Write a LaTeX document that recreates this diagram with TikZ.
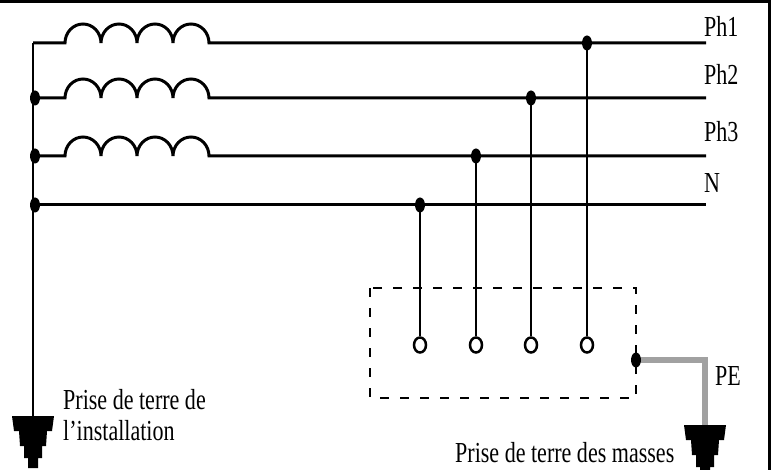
\documentclass[tikz,border=0pt]{standalone}
\usepackage{fontspec}
\setmainfont{Liberation Serif}
\usetikzlibrary{shapes.geometric}
\begin{document}
\begin{tikzpicture}[x=1pt,y=-1pt,
  hwire/.style={line width=3pt},
  vwire/.style={line width=2.4pt},
  dot/.style={ellipse,fill=black,inner sep=0pt,minimum width=10pt,minimum height=15pt},
  term/.style={ellipse,draw=black,line width=2.5pt,fill=white,inner sep=0pt,minimum width=12pt,minimum height=15pt},
  lbl/.style={anchor=base west,inner sep=0pt,font=\fontsize{29}{32}\selectfont},
  pewire/.style={line width=6.5pt,draw=black!37},
  boxline/.style={line width=2.4pt,dash pattern=on 9pt off 11pt},
  ground/.pic={\fill[black] (-21,0) -- (21,0) -- (19,15) -- (14,15) -- (13,30) -- (9,30) -- (9,42) -- (5,42) -- (5,52) -- (-5,52) -- (-5,42) -- (-9,42) -- (-9,30) -- (-13,30) -- (-14,15) -- (-19,15) -- cycle;},
]
\useasboundingbox (0,0) rectangle (771,470);
% frame
\draw[line width=3pt] (0,1.5) -- (769.5,1.5) -- (769.5,470);

% bus coordinates
\coordinate (b1) at (33,43);
\coordinate (b2) at (33,98);
\coordinate (b3) at (33,156);
\coordinate (bN) at (33,205);
\coordinate (g1) at (33,416);
\coordinate (c1) at (65,43);
\coordinate (c2) at (65,98);
\coordinate (c3) at (65,156);
\coordinate (e1) at (706,43);
\coordinate (e2) at (706,98);
\coordinate (e3) at (706,156);
\coordinate (eN) at (706,205);

% left bus
\draw[vwire] (b1) -- (g1);
\pic at (g1) {ground};

% phase lines with coils
\draw[hwire] (b1) -- (c1)
  arc[start angle=180,end angle=0,x radius=18pt,y radius=19pt]
  arc[start angle=180,end angle=0,x radius=18pt,y radius=19pt]
  arc[start angle=180,end angle=0,x radius=18pt,y radius=19pt]
  arc[start angle=180,end angle=0,x radius=18pt,y radius=19pt] -- (e1);
\draw[hwire] (b2) -- (c2)
  arc[start angle=180,end angle=0,x radius=18pt,y radius=19pt]
  arc[start angle=180,end angle=0,x radius=18pt,y radius=19pt]
  arc[start angle=180,end angle=0,x radius=18pt,y radius=19pt]
  arc[start angle=180,end angle=0,x radius=18pt,y radius=19pt] -- (e2);
\draw[hwire] (b3) -- (c3)
  arc[start angle=180,end angle=0,x radius=18pt,y radius=19pt]
  arc[start angle=180,end angle=0,x radius=18pt,y radius=19pt]
  arc[start angle=180,end angle=0,x radius=18pt,y radius=19pt]
  arc[start angle=180,end angle=0,x radius=18pt,y radius=19pt] -- (e3);
\draw[hwire] (bN) -- (eN);

\node[dot] (db2) at (35,98) {};
\node[dot] (db3) at (35,156) {};
\node[dot] (dbN) at (35,205) {};

% labels of lines
\node[lbl] (l1) at (704,37) {\scalebox{0.76}[1]{Ph1}};
\node[lbl] (l2) at (704,85) {\scalebox{0.76}[1]{Ph2}};
\node[lbl] (l3) at (704,142) {\scalebox{0.76}[1]{Ph3}};
\node[lbl] (lN) at (704,193) {\scalebox{0.76}[1]{N}};

% dashed box
\draw[boxline] (370,288) rectangle (636,398);

% terminals
\node[term] (tN) at (420,345) {};
\node[term] (t3) at (476,345) {};
\node[term] (t2) at (531,345) {};
\node[term] (t1) at (587,345) {};

\node[dot] (dN) at (420,205) {};
\node[dot] (d3) at (476,156) {};
\node[dot] (d2) at (531,98) {};
\node[dot] (d1) at (587,43) {};

\draw[vwire] (dN.center) -- (tN.north);
\draw[vwire] (d3.center) -- (t3.north);
\draw[vwire] (d2.center) -- (t2.north);
\draw[vwire] (d1.center) -- (t1.north);

% PE
\coordinate (pc) at (705,360);
\coordinate (g2) at (705,425);
\draw[pewire] (636,360) -- (pc) -- (g2);
\node[dot] (pe) at (636,360) {};
\pic at (g2) {ground};
\node[lbl] (lPE) at (715,385) {\scalebox{0.76}[1]{PE}};

% ground labels
\node[lbl] (lg1a) at (63,409) {\scalebox{0.76}[1]{Prise de terre de}};
\node[lbl] (lg1b) at (63,440) {\scalebox{0.76}[1]{l’installation}};
\node[lbl] (lg2) at (455,462) {\scalebox{0.76}[1]{Prise de terre des masses}};
\end{tikzpicture}
\end{document}
